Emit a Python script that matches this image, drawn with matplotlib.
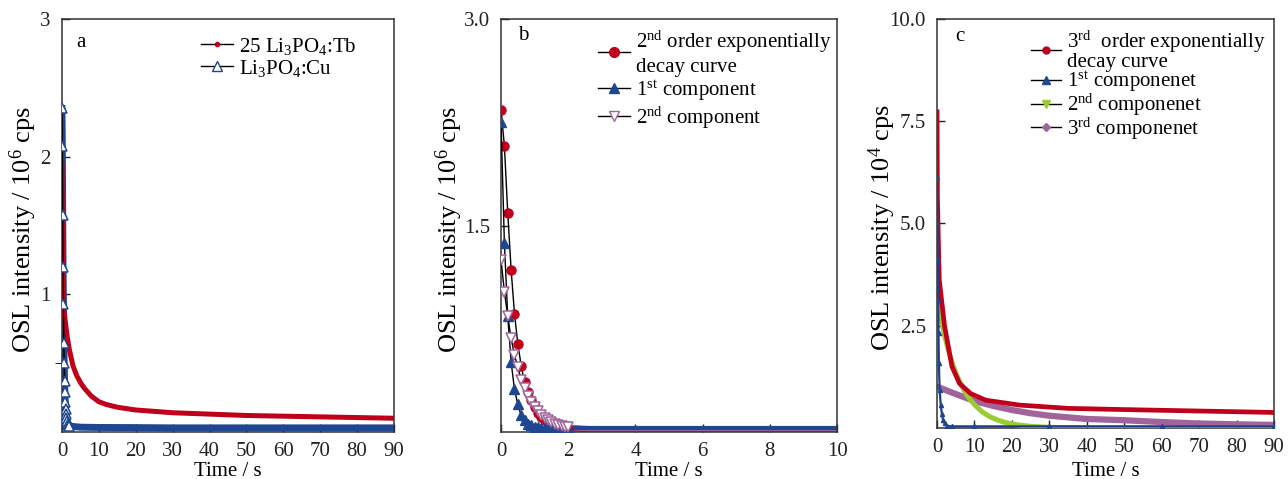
"""OSL decay curves of Li3PO4 phosphors: raw decay (a), 2nd-order fit (b), 3rd-order fit (c)."""

import matplotlib
matplotlib.use("Agg")
import matplotlib.pyplot as plt
from matplotlib.lines import Line2D

plt.rcParams["font.family"] = ["Liberation Serif", "DejaVu Serif"]
plt.rcParams["mathtext.fontset"] = "custom"
plt.rcParams["mathtext.rm"] = "Liberation Serif"
plt.rcParams["mathtext.it"] = "Liberation Serif:italic"
plt.rcParams["mathtext.bf"] = "Liberation Serif:bold"

# ---------------------------------------------------------------------------
# Data
# ---------------------------------------------------------------------------

# panel a: 10^6 cps vs s
t_tb = [0, 0.2, 0.5, 1, 1.5, 2, 3, 4, 5, 6, 8, 10, 12, 15, 20, 25, 30, 40, 50, 60, 70, 80, 90]
i_tb = [1.95, 1.10, 0.90, 0.78, 0.68, 0.60, 0.48, 0.41, 0.36, 0.32, 0.26, 0.22, 0.20, 0.18,
        0.16, 0.15, 0.14, 0.13, 0.12, 0.115, 0.11, 0.105, 0.10]

t_cu = [0, 0.1, 0.2, 0.3, 0.4, 0.5, 0.6, 0.7, 0.8, 0.9, 1.0, 1.1, 1.2, 1.4, 1.6, 1.8, 2.0,
        3, 5, 10, 20, 30, 40, 50, 60, 70, 80, 90]
i_cu = [2.35, 2.08, 1.58, 1.20, 0.93, 0.65, 0.50, 0.37, 0.29, 0.22, 0.17, 0.13, 0.10, 0.08,
        0.06, 0.05, 0.045, 0.04, 0.035, 0.033, 0.032, 0.03, 0.03, 0.03, 0.03, 0.03, 0.03, 0.03]
n_cu_marked = 17   # points before the dense floor band

# panel b: 10^6 cps vs s
t_b = [0.0, 0.1, 0.2, 0.3, 0.4, 0.5, 0.6, 0.7, 0.8, 0.9, 1.0, 1.1, 1.2, 1.3, 1.4, 1.5,
       1.6, 1.7, 1.8, 1.9, 2.0, 2.5, 3, 4, 5, 6, 7, 8, 9, 10]
fit2_total = [2.34, 2.08, 1.59, 1.18, 0.86, 0.64, 0.48, 0.36, 0.29, 0.23, 0.18, 0.14, 0.11,
              0.09, 0.07, 0.06, 0.05, 0.04, 0.035, 0.03, 0.025, 0.02, 0.02, 0.02, 0.02,
              0.02, 0.02, 0.02, 0.02, 0.02]
fit2_comp1 = [2.25, 1.37, 0.84, 0.51, 0.31, 0.20, 0.12, 0.09, 0.06, 0.05, 0.04, 0.035, 0.03,
              0.03, 0.03, 0.03, 0.03, 0.03, 0.03, 0.03, 0.03, 0.03, 0.03, 0.03, 0.03, 0.03,
              0.03, 0.03, 0.03, 0.03]
fit2_comp2 = [1.25, 1.02, 0.84, 0.68, 0.56, 0.47, 0.38, 0.32, 0.26, 0.22, 0.18, 0.15, 0.12,
              0.10, 0.085, 0.07, 0.06, 0.05, 0.045, 0.04, 0.035, 0.025, 0.02, 0.015, 0.015,
              0.015, 0.015, 0.015, 0.015, 0.015]
n_b_marked = 21

# panel c: 10^4 cps vs s
t_c_total = [0, 0.1, 0.35, 0.6, 1, 2, 4, 6, 9, 13, 22, 35, 50, 67, 90]
fit3_total = [7.73, 5.66, 4.60, 3.62, 3.30, 2.50, 1.50, 1.09, 0.84, 0.68, 0.56, 0.48, 0.45,
              0.42, 0.38]
t_c_comp1 = [0.0, 0.1, 0.2, 0.3, 0.4, 0.5, 0.7, 1.0, 1.3, 1.6, 2.0, 2.6, 4, 10, 30, 60, 90]
fit3_comp1 = [6.14, 5.00, 4.10, 3.13, 2.32, 1.59, 0.93, 0.55, 0.35, 0.20, 0.12, 0.05, 0.04,
              0.04, 0.04, 0.04, 0.04]
t_c_comp2 = [0, 1, 2, 3, 4, 5, 6, 7, 8, 9, 10, 12, 14, 16, 18, 20, 22, 25, 28, 32, 40, 60, 90]
fit3_comp2 = [3.21, 2.70, 2.27, 1.91, 1.61, 1.35, 1.14, 0.96, 0.80, 0.68, 0.57, 0.40, 0.28,
              0.20, 0.14, 0.10, 0.07, 0.04, 0.025, 0.012, 0.005, 0.0, 0.0]
t_c_comp3 = [0, 5, 10, 15, 20, 25, 30, 40, 50, 60, 70, 80, 90]
fit3_comp3 = [1.01, 0.83, 0.66, 0.54, 0.44, 0.36, 0.30, 0.22, 0.19, 0.145, 0.11, 0.09, 0.075]

RED = "#c0001a"
BLUE = "#1f4690"
GREEN = "#99cc33"
PURPLE = "#a0649b"
FS = 15

# ---------------------------------------------------------------------------
# Figure
# ---------------------------------------------------------------------------

fig = plt.figure(figsize=(12.88, 4.79), dpi=100)
ax_a = fig.add_axes([0.0481, 0.0981, 0.2578, 0.8622])
ax_b = fig.add_axes([0.3890, 0.0981, 0.2609, 0.8622])
ax_c = fig.add_axes([0.7275, 0.1065, 0.2616, 0.8539])


def style(ax, xlim, ylim, xticks, yticks, yticklabels, unit_exp, ylab_x, xlab_y):
    ax.set_xlim(*xlim)
    ax.set_ylim(*ylim)
    ax.set_xticks(xticks)
    ax.set_yticks(yticks)
    ax.set_yticklabels(yticklabels)
    ax.tick_params(direction="in", length=6, width=1, labelsize=FS, colors="#222222")
    ax.tick_params(axis="x", pad=7)
    ax.tick_params(axis="y", pad=8)
    for sp in ax.spines.values():
        sp.set_linewidth(1.1)
        sp.set_color("#333333")
    ax.set_xlabel("Time / s", fontsize=FS)
    ax.xaxis.set_label_coords(0.5, xlab_y)
    ax.set_ylabel(f"OSL intensity / 10$\\mathregular{{^{unit_exp}}}$ cps", fontsize=19)
    ax.yaxis.set_label_coords(ylab_x, 0.49)


def handle(marker, ms, mfc, mec):
    return Line2D([], [], color="black", lw=1, marker=marker, ms=ms, mfc=mfc, mec=mec)


# ── panel a ─────────────────────────────────────────────────────────────────
ax_a.plot(t_tb, i_tb, color=RED, lw=3.6, solid_capstyle="round", zorder=3)
ax_a.plot(t_cu, i_cu, color=BLUE, lw=5, zorder=2)
ax_a.plot(t_cu[:n_cu_marked], i_cu[:n_cu_marked], color="black", lw=1, marker="^", ms=7,
          mfc="white", mec=BLUE, mew=1.1, zorder=4)
style(ax_a, (0, 90), (0, 3), range(0, 91, 10), [1, 2, 3], ["1", "2", "3"], 6, -0.068, -0.072)
ax_a.set_yticks([0.5], minor=True)
ax_a.tick_params(axis="y", which="minor", direction="out", length=5)
ax_a.text(0.042, 0.944, "a", transform=ax_a.transAxes, fontsize=FS, va="center")
ax_a.legend(
    handles=[handle("o", 3, RED, RED), handle("^", 7, "white", BLUE)],
    labels=["25 Li$\\mathregular{_3}$PO$\\mathregular{_4}$:Tb",
            "Li$\\mathregular{_3}$PO$\\mathregular{_4}$:Cu"],
    loc="upper left", bbox_to_anchor=(0.42, 0.96), frameon=False, fontsize=FS,
    handlelength=1.5, handletextpad=0.3, borderpad=0, borderaxespad=0, labelspacing=0.05,
)

# ── panel b ─────────────────────────────────────────────────────────────────
nb = n_b_marked
ax_b.plot(t_b[nb - 1:], fit2_total[nb - 1:], color=RED, lw=4, zorder=2)
ax_b.plot(t_b[nb - 1:], fit2_comp2[nb - 1:], color=PURPLE, lw=4, zorder=2)
ax_b.plot(t_b[nb - 1:], fit2_comp1[nb - 1:], color=BLUE, lw=3, zorder=2)
ax_b.plot(t_b[:nb], fit2_total[:nb], color="black", lw=1, marker="o", ms=6.5,
          mfc=RED, mec=RED, zorder=3)
ax_b.plot(t_b[:nb], fit2_comp1[:nb], color="black", lw=1, marker="^", ms=6.5,
          mfc=BLUE, mec=BLUE, zorder=4)
ax_b.plot(t_b[:nb], fit2_comp2[:nb], color="black", lw=1, marker="v", ms=6.5,
          mfc="white", mec=PURPLE, mew=1.1, zorder=5)
style(ax_b, (0, 10), (0, 3.0), range(0, 11, 2), [1.5, 3.0], ["1.5", "3.0"], 6, -0.108, -0.072)
ax_b.text(0.05, 0.96, "b", transform=ax_b.transAxes, fontsize=FS, va="center")
ax_b.legend(
    handles=[handle("o", 7, RED, RED), handle("^", 7, BLUE, BLUE),
             handle("v", 7, "white", PURPLE)],
    labels=["2$\\mathregular{^{nd}}$ order exponentially\ndecay curve",
            "1$\\mathregular{^{st}}$ component",
            "2$\\mathregular{^{nd}}$ component"],
    loc="upper left", bbox_to_anchor=(0.29, 0.977), frameon=False, fontsize=FS,
    handlelength=1.5, handletextpad=0.3, borderpad=0, borderaxespad=0, labelspacing=0.08,
)

# ── panel c ─────────────────────────────────────────────────────────────────
ax_c.plot(t_c_comp3, fit3_comp3, color=PURPLE, lw=4.5, zorder=2)
ax_c.plot(t_c_comp2, fit3_comp2, color=GREEN, lw=3.6, zorder=3)
ax_c.plot(t_c_total, fit3_total, color=RED, lw=3.4, zorder=4)
ax_c.plot(t_c_comp1, fit3_comp1, color="#1d3f86", lw=1.6, marker="^", ms=3,
          mfc=BLUE, mec=BLUE, zorder=5)
style(ax_c, (0, 90), (0, 10), range(0, 91, 10), [2.5, 5.0, 7.5, 10.0],
      ["2.5", "5.0", "7.5", "10.0"], 4, -0.116, -0.082)
ax_c.text(0.053, 0.956, "c", transform=ax_c.transAxes, fontsize=FS, va="center")
leg_c = ax_c.legend(
    handles=[handle("o", 5, RED, RED), handle("^", 6, BLUE, BLUE),
             handle("v", 6, GREEN, GREEN), handle("D", 4.5, PURPLE, PURPLE)],
    labels=["3$\\mathregular{^{rd}}$  order exponentially\ndecay curve",
            "1$\\mathregular{^{st}}$ componenet",
            "2$\\mathregular{^{nd}}$ componenet",
            "3$\\mathregular{^{rd}}$ componenet"],
    loc="upper left", bbox_to_anchor=(0.28, 0.975), frameon=False, fontsize=FS,
    handlelength=1.4, handletextpad=0.3, borderpad=0, borderaxespad=0, labelspacing=-0.12,
)
leg_c.get_texts()[0].set_linespacing(0.85)

fig.savefig("out.png", dpi=100)
